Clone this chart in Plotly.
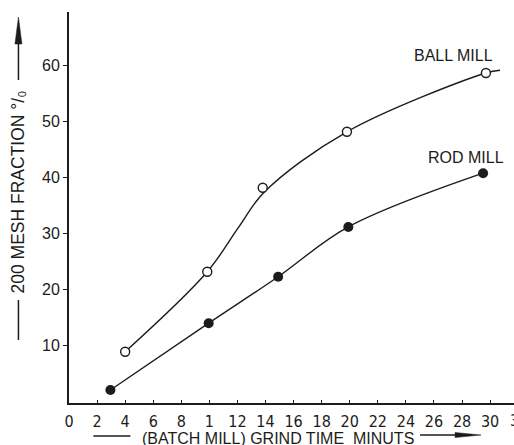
import plotly.graph_objects as go

# ---- data ----
ball_time = [4.0, 9.85, 13.8, 19.8, 29.7]
ball_frac = [8.8, 23.1, 38.1, 48.1, 58.6]
# hand-drawn fitted curve through the ball-mill points
ball_curve_time = [4.0, 9.85, 12.1, 13.9, 19.8, 29.7, 30.7]
ball_curve_frac = [8.8, 23.1, 31.1, 37.3, 48.1, 58.6, 59.1]

rod_time = [2.95, 9.95, 14.9, 19.9, 29.5]
rod_frac = [1.96, 13.9, 22.2, 31.1, 40.7]

x_tick_vals = [0, 2, 4, 6, 8, 10, 12, 14, 16, 18, 20, 22, 24, 26, 28, 30]
x_tick_text = ["0", "2", "4", "6", "8", "1", "12", "14", "16", "18", "20",
               "22", "24", "26", "28", "30"]
y_tick_vals = [10, 20, 30, 40, 50, 60]
y_tick_text = ["10", "20", "30", "40", "50", "60"]

INK = "#1c1c1a"
FONT = "Liberation Sans, Arial, sans-serif"
NARROW = "Liberation Sans Narrow, DejaVu Sans Condensed, Arial Narrow, sans-serif"

W, H = 514, 445
ML, MR, MT, MB = 68.6, 0, 12, 42
PW, PH = W - ML - MR, H - MT - MB


def px(x):
    return (x - ML) / PW


def py(y):
    return (H - MB - y) / PH


fig = go.Figure()
fig.add_trace(go.Scatter(x=ball_curve_time, y=ball_curve_frac, mode="lines",
                         line=dict(color=INK, width=1.4, shape="spline", smoothing=1.0),
                         hoverinfo="skip", showlegend=False))
fig.add_trace(go.Scatter(x=ball_time, y=ball_frac, mode="markers", name="BALL MILL",
                         marker=dict(symbol="circle", size=9, color="white",
                                     line=dict(color=INK, width=1.4)),
                         showlegend=False))
fig.add_trace(go.Scatter(x=rod_time, y=rod_frac, mode="lines+markers", name="ROD MILL",
                         line=dict(color=INK, width=1.4, shape="spline", smoothing=1.0),
                         marker=dict(symbol="circle", size=10, color=INK),
                         showlegend=False))

fig.update_layout(
    width=W, height=H,
    margin=dict(l=ML, r=MR, t=MT, b=MB, pad=0),
    paper_bgcolor="white", plot_bgcolor="white",
    font=dict(family=FONT, color=INK, size=16),
    xaxis=dict(range=[0, PW / 14.05], tickmode="array", tickvals=x_tick_vals,
               ticktext=x_tick_text, ticks="inside", ticklen=3, tickwidth=1.2,
               tickcolor=INK, showline=True, linecolor=INK, linewidth=2,
               showgrid=False, zeroline=False,
               tickfont=dict(family=NARROW, size=16, color=INK),
               ticklabelstandoff=3),
    yaxis=dict(range=[-0.36, 69.5], tickmode="array", tickvals=y_tick_vals,
               ticktext=y_tick_text, ticks="outside", ticklen=4, tickwidth=1.2,
               tickcolor=INK, showline=True, linecolor=INK, linewidth=2,
               showgrid=False, zeroline=False,
               tickfont=dict(family=FONT, size=16, color=INK)),
)


def label(xp, yp, text, **kw):
    fig.add_annotation(x=px(xp), y=py(yp), xref="paper", yref="paper", text=text,
                       showarrow=False, xanchor=kw.pop("xanchor", "center"),
                       yanchor="middle",
                       font=kw.pop("font", dict(size=16, family=FONT, color=INK)), **kw)


# series labels
label(453, 55, "BALL MILL")
label(466, 157, "ROD MILL")

# cut-off "32" tick label at the right edge
label(508, 420, "3", xanchor="left", font=dict(size=16, family=NARROW, color=INK))

# x-axis title with lines/arrow
label(278, 438, "(BATCH MILL) GRIND TIME  MINUTS")
fig.add_shape(type="line", xref="paper", yref="paper", x0=px(93), x1=px(130),
              y0=py(436), y1=py(436), line=dict(color=INK, width=1.5))
fig.add_shape(type="line", xref="paper", yref="paper", x0=px(420), x1=px(462),
              y0=py(435), y1=py(435), line=dict(color=INK, width=1.5))
fig.add_shape(type="path", xref="paper", yref="paper",
              path=f"M {px(455)},{py(432.5)} L {px(481)},{py(435)} L {px(455)},{py(437.5)} Z",
              fillcolor=INK, line=dict(color=INK, width=0.5))

# y-axis title with lines/arrow
label(18, 192, "200 MESH FRACTION °/₀", textangle=-90,
      font=dict(size=17.5, family=FONT, color=INK))
fig.add_shape(type="line", xref="paper", yref="paper", x0=px(18), x1=px(18),
              y0=py(300), y1=py(340), line=dict(color=INK, width=1.5))
fig.add_shape(type="line", xref="paper", yref="paper", x0=px(18), x1=px(18),
              y0=py(80), y1=py(38), line=dict(color=INK, width=1.5))
fig.add_shape(type="path", xref="paper", yref="paper",
              path=f"M {px(14.5)},{py(44)} L {px(18)},{py(17)} L {px(21.5)},{py(44)} Z",
              fillcolor=INK, line=dict(color=INK, width=0.5))

fig.write_html("out.html", config={"displayModeBar": False},
               post_script="document.body.style.margin='0';document.body.style.padding='0';")
